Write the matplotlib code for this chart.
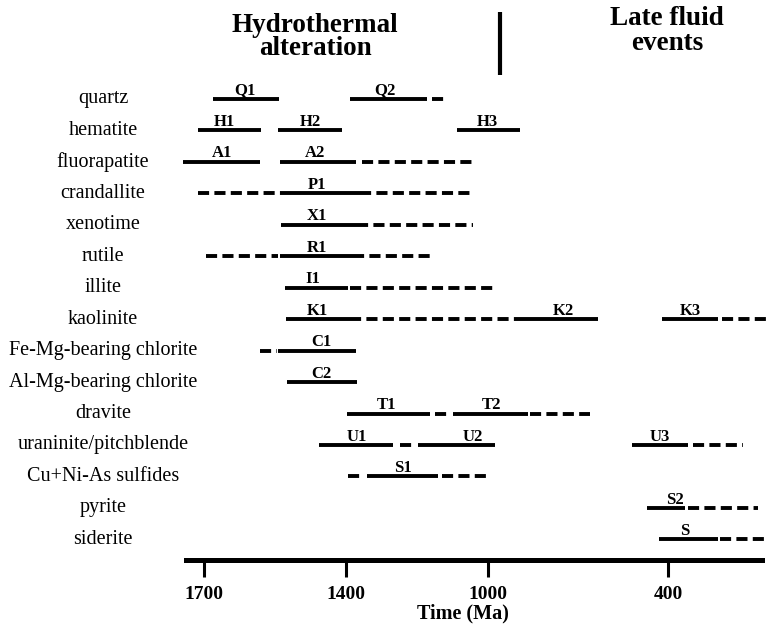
import numpy as np
import matplotlib
matplotlib.use("Agg")
import matplotlib.pyplot as plt

plt.rcParams["font.family"] = ["Liberation Serif", "DejaVu Serif"]
plt.rcParams["lines.scale_dashes"] = False

# Mineral rows, top to bottom
minerals = [
    "quartz", "hematite", "fluorapatite", "crandallite", "xenotime",
    "rutile", "illite", "kaolinite", "Fe-Mg-bearing chlorite",
    "Al-Mg-bearing chlorite", "dravite", "uraninite/pitchblende",
    "Cu+Ni-As sulfides", "pyrite", "siderite",
]

# Growth intervals (Ma): row index, start, end, certain (solid) or inferred (dashed)
seg_row = [0, 0, 0,
           1, 1, 1,
           2, 2, 2,
           3, 3, 3,
           4, 4,
           5, 5, 5,
           6, 6,
           7, 7, 7, 7, 7,
           8, 8,
           9,
           10, 10, 10, 10,
           11, 11, 11, 11, 11,
           12, 12, 12,
           13, 13,
           14, 14]
seg_start = [1681, 1389, 1158,
             1713, 1544, 1087,
             1744, 1539, 1355,
             1713, 1539, 1361,
             1537, 1369,
             1696, 1539, 1380,
             1529, 1389,
             1527, 1389, 887, 420, 220,
             1582, 1544,
             1525,
             1397, 1149, 1099, 860,
             1457, 1248, 1197, 520, 317,
             1394, 1341, 1130,
             470, 333,
             430, 227]
seg_end = [1542, 1172, 1121,
           1580, 1408, 893,
           1582, 1372, 1045,
           1539, 1361, 1051,
           1369, 1042,
           1544, 1380, 1152,
           1394, 983,
           1389, 887, 633, 233, 67,
           1546, 1372,
           1369,
           1163, 1113, 867, 660,
           1268, 1211, 977, 333, 150,
           1355, 1141, 1003,
           343, 100,
           233, 67]
seg_solid = [1, 1, 0,
             1, 1, 1,
             1, 1, 0,
             0, 1, 0,
             1, 0,
             0, 1, 0,
             1, 0,
             1, 0, 1, 1, 0,
             0, 1,
             1,
             1, 0, 1, 0,
             1, 0, 1, 1, 0,
             0, 1, 0,
             1, 0,
             1, 0]

# Generation labels: name, row, age (Ma) of label centre
gen_name = ["Q1", "Q2", "H1", "H2", "H3", "A1", "A2", "P1", "X1", "R1", "I1",
            "K1", "K2", "K3", "C1", "C2", "T1", "T2", "U1", "U2", "U3",
            "S1", "S2", "S"]
gen_row = [0, 0, 1, 1, 1, 2, 2, 3, 4, 5, 6,
           7, 7, 7, 8, 9, 10, 10, 11, 11, 11,
           12, 13, 14]
gen_age = [1613, 1290, 1656, 1476, 1003, 1662, 1465, 1461, 1461, 1461, 1470,
           1461, 750, 327, 1451, 1451, 1285, 987, 1369, 1042, 427,
           1239, 377, 343]

tick_ages = [1700, 1400, 1000, 400]
boundary_age = 960

# Broken time axis: each era is drawn with its own stretch
anchor_age = np.array([-500.0, 400.0, 1000.0, 1400.0, 1700.0, 2200.0])
anchor_pos = np.array([938.0, 668.0, 488.0, 346.0, 204.0, -32.5])


def forward(a):
    return -np.interp(a, anchor_age, anchor_pos)


def inverse(p):
    return np.interp(p, -anchor_pos, anchor_age)


fig = plt.figure(figsize=(7.68, 6.33), dpi=100)
ax = fig.add_axes([186 / 768, 73 / 633, 576 / 768, 560 / 633])
ax.set_xscale("function", functions=(forward, inverse))
ax.set_xlim(1738, 87)
ax.set_ylim(14.652, -3.131)

lw = 2.8
for r, a0, a1, solid in zip(seg_row, seg_start, seg_end, seg_solid):
    if solid:
        ax.plot([a0, a1], [r, r], color="black", lw=lw,
                solid_capstyle="butt", clip_on=False)
    else:
        ax.plot([a0, a1], [r, r], color="black", lw=lw,
                linestyle=(0, (8.0, 3.8)), dash_capstyle="butt",
                clip_on=False)

for name, r, a in zip(gen_name, gen_row, gen_age):
    ax.text(a, r - 0.14, name, ha="center", va="baseline",
            fontsize=12, fontweight="bold", clip_on=False)

ytr = ax.get_yaxis_transform()
for i, m in enumerate(minerals):
    ax.text(-0.144, i, m, transform=ytr, ha="center", va="center",
            fontsize=14.5, clip_on=False)

# Stage headings and the boundary between them
ax.text(1465, -2.115, "Hydrothermal", ha="center", va="baseline",
        fontsize=19.5, fontweight="bold")
ax.text(1465, -1.385, "alteration", ha="center", va="baseline",
        fontsize=19.5, fontweight="bold")
ax.text(403, -2.337, "Late fluid", ha="center", va="baseline",
        fontsize=19.5, fontweight="bold")
ax.text(403, -1.543, "events", ha="center", va="baseline",
        fontsize=19.5, fontweight="bold")
ax.plot([boundary_age, boundary_age], [-2.75, -0.75], color="black",
        lw=3.0, solid_capstyle="butt", clip_on=False)

for s in ("left", "right", "top"):
    ax.spines[s].set_visible(False)
ax.spines["bottom"].set_linewidth(3.6)
ax.set_yticks([])
ax.set_xticks(tick_ages)
ax.set_xticklabels([str(t) for t in tick_ages], fontsize=14,
                   fontweight="bold")
ax.xaxis.set_minor_locator(matplotlib.ticker.NullLocator())
ax.tick_params(axis="x", direction="out", length=12, width=2.2, pad=7)
ax.set_xlabel("Time (Ma)", fontsize=14.5, fontweight="bold")
ax.xaxis.set_label_coords(0.481, -0.078)
ax.patch.set_visible(False)

fig.savefig("out.png", dpi=100)
